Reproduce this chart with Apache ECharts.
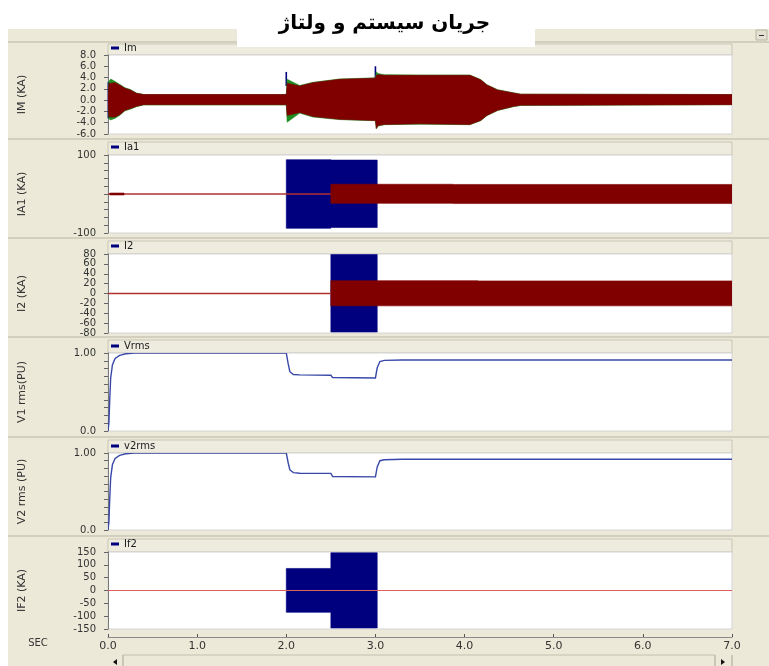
<!DOCTYPE html>
<html>
<head>
<meta charset="utf-8">
<script src="https://cdn.jsdelivr.net/npm/echarts@6/dist/echarts.min.js"></script>
<style>html,body{margin:0;padding:0;background:#fff;}#c{width:769px;height:666px;}</style>
</head>
<body>
<div id="c"></div>
<script>
// ---------- DATA ----------
const xTicks = [0, 1, 2, 3, 4, 5, 6, 7];            // SEC
// Panel 1: Im (kA) — envelopes of the oscillating current
const imTime       = [0, 0.01, 0.03, 0.08, 0.13, 0.19, 0.25, 0.32, 0.40, 2.0, 2.01, 2.15, 2.3, 2.6, 2.8, 3.0, 3.01, 3.03, 3.1, 3.5, 4.06, 4.18, 4.25, 4.37, 4.55, 4.63, 7.0];
const imRedUpper   = [0.3, 2.9, 3.0, 3.1, 2.7, 2.1, 1.8, 1.2, 1.0, 1.0, 3.0, 2.5, 3.1, 3.7, 3.8, 3.9, 4.4, 4.5, 4.4, 4.4, 4.4, 3.6, 2.7, 1.8, 1.25, 1.05, 1.0];
const imRedLower   = [-0.3, -2.9, -3.0, -3.0, -2.6, -1.8, -1.5, -1.1, -0.8, -0.8, -2.7, -2.2, -2.9, -3.4, -3.5, -3.6, -5.0, -4.5, -4.3, -4.2, -4.3, -3.6, -2.7, -1.8, -1.1, -0.9, -0.8];
const imGreenUpper = [0.3, 3.3, 3.75, 3.3, 2.8, 2.2, 1.9, 1.25, 1.0, 1.0, 3.7, 2.6, 3.15, 3.75, 3.85, 3.95, 5.0, 4.7, 4.5, 4.45, 4.45, 3.65, 2.75, 1.85, 1.3, 1.05, 1.0];
const imGreenLower = [-0.3, -3.3, -3.5, -3.2, -2.7, -1.9, -1.6, -1.15, -0.85, -0.85, -3.9, -2.3, -3.0, -3.45, -3.55, -3.65, -5.1, -4.6, -4.35, -4.25, -4.35, -3.65, -2.75, -1.85, -1.15, -0.95, -0.8];
const imSpikeTime  = [0.004, 2.0, 3.0];
const imSpikeLow   = [-3.2, 2.5, 3.9];
const imSpikeHigh  = [3.2, 5.0, 6.0];
// Panel 2: Ia1 (kA)
const ia1LineTime  = [0, 7];
const ia1LineVal   = [0, 0];
const ia1SmallTime = [0.02, 0.18];
const ia1SmallUp   = [2.5, 2.5];
const ia1SmallLo   = [-2.5, -2.5];
const ia1BlueTime  = [2.0, 2.5, 2.5, 3.02];
const ia1BlueUp    = [88, 88, 87, 87];
const ia1BlueLo    = [-88, -88, -86, -86];
const ia1RedTime   = [2.5, 3.87, 3.87, 7];
const ia1RedUp     = [25, 25, 24.5, 24.5];
const ia1RedLo     = [-24, -24, -24.5, -24.5];
// Panel 3: I2 (kA)
const i2LineTime   = [0, 2.5];
const i2LineVal    = [0, 0];
const i2BlueTime   = [2.5, 3.02];
const i2BlueUp     = [79, 79];
const i2BlueLo     = [-78, -78];
const i2RedTime    = [2.5, 4.15, 4.15, 7];
const i2RedUp      = [26, 26, 25.5, 25.5];
const i2RedLo      = [-25, -25, -25, -25];
// Panel 4: Vrms (pu)
const v1Time = [0, 0.01, 0.02, 0.03, 0.05, 0.08, 0.13, 0.2, 0.3, 2.0, 2.02, 2.04, 2.08, 2.15, 2.5, 2.52, 3.0, 3.02, 3.05, 3.1, 3.3, 4.3, 7.0];
const v1Val  = [0, 0.1, 0.42, 0.68, 0.85, 0.93, 0.97, 0.99, 1.0, 1.0, 0.87, 0.76, 0.725, 0.72, 0.715, 0.685, 0.68, 0.81, 0.89, 0.905, 0.91, 0.91, 0.91];
// Panel 5: v2rms (pu)
const v2Time = [0, 0.01, 0.02, 0.03, 0.05, 0.08, 0.13, 0.2, 0.3, 2.0, 2.02, 2.04, 2.08, 2.15, 2.5, 2.52, 3.0, 3.02, 3.05, 3.1, 3.3, 4.3, 7.0];
const v2Val  = [0, 0.1, 0.42, 0.68, 0.85, 0.93, 0.97, 0.99, 1.0, 1.0, 0.88, 0.78, 0.745, 0.737, 0.735, 0.695, 0.69, 0.82, 0.9, 0.912, 0.918, 0.918, 0.918];
// Panel 6: If2 (kA)
const if2LineTime = [0, 7];
const if2LineVal  = [0, 0];
const if2BlueTime = [2.0, 2.5, 2.5, 3.02];
const if2BlueUp   = [86, 86, 147, 147];
const if2BlueLo   = [-85, -85, -146, -146];

const yNames   = ['IM (KA)', 'IA1 (KA)', 'I2 (KA)', 'V1 rms(PU)', 'V2 rms (PU)', 'IF2 (KA)'];
const legNames = ['Im', 'Ia1', 'I2', 'Vrms', 'v2rms', 'If2'];

// ---------- STYLE ----------
const RED = '#800000', NAVY = '#00007F', GREEN = '#1E8C1E';
const BEIGE = '#ECE9D8', HEAD = '#EEEBDF', SEP = '#D3CFBF';
const FONT = 'DejaVu Sans';
const tops = [55, 155, 254, 353, 453, 552];
const heights = [79, 78, 79, 78, 77, 77];
const headTops = [44, 142, 241, 340, 440, 539];
const legTops = [43, 142, 241, 341, 441, 539];
const seps = [138, 237, 336, 436, 535];

// filled envelope band: polygon upper(t) -> lower(t) reversed, through the axes' scales
function band(idx, name, t, up, lo, color, z) {
  return {type: 'custom', name: name, xAxisIndex: idx, yAxisIndex: idx, z: z, silent: true, animation: false,
    clip: true, itemStyle: {color: color},
    data: t.map((x, i) => [x, up[i], lo[i]]),
    encode: {x: 0, y: [1, 2]},
    renderItem: function (params, api) {
      if (params.dataIndex !== 0) return null;
      const pts = [];
      for (let i = 0; i < t.length; i++) pts.push(api.coord([t[i], up[i]]));
      for (let i = t.length - 1; i >= 0; i--) pts.push(api.coord([t[i], lo[i]]));
      return {type: 'polygon', shape: {points: pts},
        style: {fill: color, stroke: color, lineWidth: 0.6}};
    }};
}
function line(idx, name, t, v, color, w, z) {
  return {type: 'custom', name: name, xAxisIndex: idx, yAxisIndex: idx, z: z, silent: true, animation: false,
    clip: true, itemStyle: {color: color},
    data: t.map((x, i) => [x, v[i]]),
    encode: {x: 0, y: 1},
    renderItem: function (params, api) {
      if (params.dataIndex !== 0) return null;
      const pts = t.map((x, i) => api.coord([x, v[i]]));
      return {type: 'polyline', shape: {points: pts},
        style: {fill: null, stroke: color, lineWidth: w}};
    }};
}
function spikes(idx, name, t, lo, hi, color, z) {
  return {type: 'custom', name: name, xAxisIndex: idx, yAxisIndex: idx, z: z, silent: true, animation: false,
    itemStyle: {color: color},
    data: t.map((x, i) => [x, lo[i], hi[i]]),
    encode: {x: 0, y: [1, 2]},
    renderItem: function (params, api) {
      const a = api.coord([api.value(0), api.value(1)]);
      const b = api.coord([api.value(0), api.value(2)]);
      return {type: 'line', shape: {x1: a[0], y1: a[1], x2: b[0], y2: b[1]},
        style: {stroke: color, lineWidth: 1.6}};
    }};
}

const grids = tops.map((t, i) => ({left: 108, right: 37, top: t, height: heights[i], show: true,
  backgroundColor: '#FFFFFF', borderColor: '#D4D4D4', borderWidth: 1}));

const xAxes = tops.map((t, i) => {
  const last = i === 5;
  return {type: 'value', gridIndex: i, min: xTicks[0], max: xTicks[xTicks.length - 1], interval: 1,
    show: last, position: 'bottom', offset: last ? 8 : 0,
    axisLine: {show: last, onZero: false, lineStyle: {color: last ? '#8A8A8A' : 'transparent', width: 1}},
    axisTick: {show: last, inside: true, length: 3, lineStyle: {color: '#555'}},
    axisLabel: {show: last, color: '#333', fontSize: 11, fontFamily: FONT, margin: 4,
      formatter: v => v.toFixed(1)},
    splitLine: {show: false}};
});

const yCfg = [
  {min: -6, max: 8, interval: 2, fmt: v => v.toFixed(1)},
  {min: -100, max: 100, interval: 20, fmt: v => (Math.abs(Math.round(v)) === 100 ? String(Math.round(v)) : '')},
  {min: -80, max: 80, interval: 20, fmt: v => String(Math.round(v))},
  {min: 0, max: 1, interval: 0.1, fmt: v => (Math.abs(v - 1) < 1e-6 ? '1.00' : (Math.abs(v) < 1e-6 ? '0.0' : ''))},
  {min: 0, max: 1, interval: 0.1, fmt: v => (Math.abs(v - 1) < 1e-6 ? '1.00' : (Math.abs(v) < 1e-6 ? '0.0' : ''))},
  {min: -150, max: 150, interval: 50, fmt: v => String(Math.round(v))}
];
const yAxes = yCfg.map((c, i) => ({type: 'value', gridIndex: i, min: c.min, max: c.max, interval: c.interval,
  name: yNames[i], nameLocation: 'middle', nameRotate: 90, nameGap: 80,
  nameTextStyle: {color: '#333', fontSize: 11, fontFamily: FONT},
  axisLine: {show: true, onZero: false, lineStyle: {color: '#7A7A7A', width: 1}},
  axisTick: {show: true, inside: false, length: 4, lineStyle: {color: '#666'}},
  axisLabel: {color: '#333', fontSize: 10, fontFamily: FONT, margin: 12, formatter: c.fmt,
    showMinLabel: true, showMaxLabel: true, hideOverlap: false},
  splitLine: {show: false}}));

const legends = legNames.map((n, i) => ({
  left: 111, top: legTops[i], padding: 0, orient: 'horizontal', selectedMode: false, icon: 'rect',
  itemWidth: 8, itemHeight: 3, itemGap: 4,
  textStyle: {color: '#1a1a1a', fontSize: 10, fontFamily: FONT},
  data: [{name: n, icon: 'rect', itemStyle: {color: NAVY, borderWidth: 0}}]
}));

let series = [];
// panel 1
series.push(spikes(0, 'Im_spk', imSpikeTime, imSpikeLow, imSpikeHigh, NAVY, 2));
series.push(band(0, 'Im_g', imTime, imGreenUpper, imGreenLower, GREEN, 3));
series.push(band(0, 'Im', imTime, imRedUpper, imRedLower, RED, 4));
// panel 2
series.push(band(1, 'Ia1', ia1BlueTime, ia1BlueUp, ia1BlueLo, NAVY, 2));
series.push(line(1, 'Ia1_l', ia1LineTime, ia1LineVal, '#B03030', 1.6, 3));
series.push(band(1, 'Ia1_s', ia1SmallTime, ia1SmallUp, ia1SmallLo, RED, 4));
series.push(band(1, 'Ia1_r', ia1RedTime, ia1RedUp, ia1RedLo, RED, 4));
// panel 3
series.push(band(2, 'I2', i2BlueTime, i2BlueUp, i2BlueLo, NAVY, 3));
series.push(band(2, 'I2_r', i2RedTime, i2RedUp, i2RedLo, RED, 4));
series.push(line(2, 'I2_l', i2LineTime, i2LineVal, '#B03030', 1.6, 10));
// panel 4, 5
series.push(line(3, 'Vrms', v1Time, v1Val, '#3848A8', 1.4, 3));
series.push(line(4, 'v2rms', v2Time, v2Val, '#3848A8', 1.4, 3));
// panel 6
series.push(band(5, 'If2', if2BlueTime, if2BlueUp, if2BlueLo, NAVY, 2));
series.push(line(5, 'If2_l', if2LineTime, if2LineVal, '#E06060', 1.2, 3));

// ---------- DECORATION (window frame) ----------
const g = [];
g.push({type: 'rect', z: -10, shape: {x: 8, y: 29, width: 761, height: 637}, style: {fill: BEIGE}});
g.push({type: 'rect', z: -9, shape: {x: 8, y: 41, width: 761, height: 2}, style: {fill: SEP}});
seps.forEach(y => g.push({type: 'rect', z: -9, shape: {x: 8, y: y, width: 761, height: 2}, style: {fill: SEP}}));
headTops.forEach((y, i) => g.push({type: 'rect', z: -8,
  shape: {x: 108, y: y, width: 624, height: tops[i] - y}, style: {fill: HEAD, stroke: '#C9C5B5', lineWidth: 1}}));
g.push({type: 'rect', z: -7, shape: {x: 237, y: 0, width: 298, height: 47}, style: {fill: '#FFFFFF'}});
g.push({type: 'rect', z: -7, shape: {x: 756, y: 30, width: 11, height: 10}, style: {fill: '#E4E1D2', stroke: '#B9B5A5'}});
g.push({type: 'rect', z: -6, shape: {x: 759, y: 35, width: 5, height: 1}, style: {fill: '#333'}});
// SEC label
g.push({type: 'text', z: 5, style: {x: 38, y: 643, text: 'SEC', fill: '#333', fontSize: 10,
  fontFamily: FONT, align: 'center', verticalAlign: 'middle'}});
// scrollbar
g.push({type: 'line', z: -5, shape: {x1: 123, y1: 655, x2: 715, y2: 655}, style: {stroke: '#C4C0B0', lineWidth: 1}});
g.push({type: 'line', z: -5, shape: {x1: 123, y1: 655, x2: 123, y2: 666}, style: {stroke: '#A8A498', lineWidth: 1}});
g.push({type: 'line', z: -5, shape: {x1: 715, y1: 655, x2: 715, y2: 666}, style: {stroke: '#A8A498', lineWidth: 1}});
g.push({type: 'line', z: -5, shape: {x1: 732, y1: 655, x2: 732, y2: 666}, style: {stroke: '#A8A498', lineWidth: 1}});
g.push({type: 'polygon', z: -4, shape: {points: [[113, 662], [117, 659], [117, 665]]}, style: {fill: '#111'}});
g.push({type: 'polygon', z: -4, shape: {points: [[725, 662], [721, 659], [721, 665]]}, style: {fill: '#111'}});

const chart = echarts.init(document.getElementById('c'), null, {renderer: 'canvas'});
chart.setOption({
  animation: false,
  backgroundColor: '#FFFFFF',
  title: {text: 'جریان سیستم و ولتاژ', left: 'center', top: 9,
    textStyle: {color: '#000', fontSize: 20, fontWeight: 'bold', fontFamily: FONT}},
  legend: legends,
  grid: grids,
  xAxis: xAxes,
  yAxis: yAxes,
  graphic: g,
  series: series
});
</script>
</body>
</html>
